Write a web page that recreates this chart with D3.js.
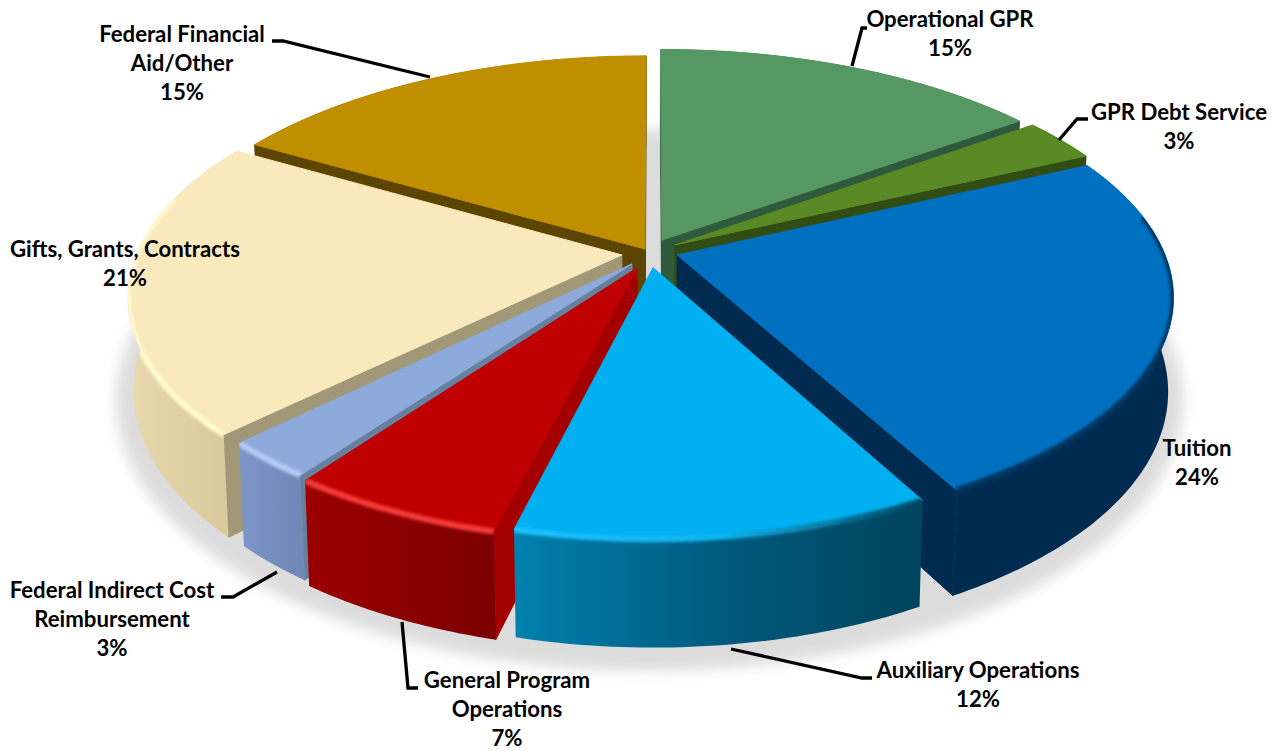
<!DOCTYPE html>
<html>
<head>
<meta charset="utf-8">
<title>Revenue by source</title>
<script src="https://cdn.jsdelivr.net/npm/d3@7"></script>
<style>
  html, body { margin: 0; padding: 0; background: #fff; }
  svg { display: block; }
  text { font-family: Lato, "Open Sans", sans-serif; font-weight: 700; fill: #000; text-anchor: middle; }
</style>
</head>
<body>
<svg id="chart" width="1272" height="751"></svg>
<script>
// Revenue shares, clockwise from twelve o'clock
const categories = ["Operational GPR", "GPR Debt Service", "Tuition", "Auxiliary Operations",
  "General Program Operations", "Federal Indirect Cost Reimbursement",
  "Gifts, Grants, Contracts", "Federal Financial Aid/Other"];
const shares = [15, 3, 24, 12, 7, 3, 21, 15];

const labelLines = [["Operational GPR"], ["GPR Debt Service"], ["Tuition"], ["Auxiliary Operations"],
  ["General Program", "Operations"], ["Federal Indirect Cost", "Reimbursement"],
  ["Gifts, Grants, Contracts"], ["Federal Financial", "Aid/Other"]];

// Label placement: centre x and baseline of the first line
const labelPos = [[950, 26.5], [1179, 119.5], [1197, 455.5], [978, 677.5], [507, 687.5], [112, 597.5], [125, 256.5], [182, 41.5]];

// Leader lines from label to slice
const leaders = [
  [[852, 66], [862, 28], [867, 28]],
  [[1059, 140], [1077, 119], [1088, 119]],
  null,
  [[731, 649], [862, 678], [872, 678]],
  [[402, 622], [408, 688], [418, 688]],
  [[277, 572], [233, 597], [221, 597]],
  null,
  [[430, 77], [283, 41], [272, 41]]
];

// Colours per slice: top face, outer wall stops, radial cut face, rim shading stops
const topColors = ["#559863", "#5a8a25", "#0070c0", "#00b0f0", "#c00000", "#8eaadb", "#f9e9bd", "#bf8f00"];
const wallColors = [
  ["#2f5a3c", "#2f5a3c"], ["#324d14", "#324d14"], ["#002b50", "#002b50"],
  ["#0081ae", "#005b7e", "#00445c"], ["#9c0000", "#8c0000", "#7c0000"],
  ["#7e96c8", "#6f87b5"], ["#e9daae", "#d6c698"], ["#5c4500", "#5c4500"]
];
const faceColors = ["#2f5a3c", "#324d14", "#002b50", "#004a66", "#a50000", "#67809f", "#a09876", "#5c4500"];
const rimColors = [
  ["#4a8556"], ["#4f7a20"], ["#00345f"], ["#1cc2ff", "#10b4ee", "#00465f"],
  ["#f53a3a"], ["#b5ccf6"], ["#fffad0"], ["#b58800"]
];

// Each slice is pulled away from the hub: plane offset and radius
const sliceOffset = [
  { x: 0.02, y: 0.03, r: 0.98 }, { x: 0.046, y: 0.0087, r: 0.98 },
  { x: 0.05, y: -0.0345, r: 0.97 }, { x: 0.002, y: -0.088, r: 0.945 },
  { x: -0.0295, y: -0.0895, r: 0.95 }, { x: -0.0395, y: -0.0725, r: 0.95 },
  { x: -0.06, y: -0.034, r: 0.965 }, { x: -0.014, y: -0.0087, r: 0.98 }
];
// Back-to-front paint order
const paintOrder = [7, 0, 1, 6, 2, 5, 4, 3];
// Part of the rim that catches shading, in view degrees
const rimSpan = [null, null, [80, 153], [151, 195], [190, 218], [215, 228], [224, 285], null];

// Camera: plane coordinates to screen, z = 0 on top of the disc, z = 1 under it
const cam = { cx: 652, cy: 247, a: 230.8, b: 500, k: 0.178, g: 0.01, h: 92.5 };
function project(X, Y, z) {
  const w = 1 + cam.k * Y + cam.g * z;
  return [cam.cx + cam.b * X / w, cam.cy + (-cam.a * Y + cam.h * z) / w];
}
// The oblique view compresses the left half; maps pie degrees to view degrees
const viewAngle = d3.scaleLinear()
  .domain([0, 151.2, 194.4, 219.6, 230.4, 306, 360])
  .range([0, 151.5, 194, 216, 225.5, 300, 360]);

const svg = d3.select("#chart");
const defs = svg.append("defs");
const blur = (id, sd) => defs.append("filter").attr("id", id)
  .attr("x", "-30%").attr("y", "-30%").attr("width", "160%").attr("height", "160%")
  .append("feGaussianBlur").attr("stdDeviation", sd);
blur("soft", 1.8);
blur("ground", 7);

const arcs = d3.pie().sort(null).value(d => d)(shares);
const toPath = d3.line();
const rad = d => d * Math.PI / 180;

function rimPoint(i, deg, z, scale = 1) {
  const o = sliceOffset[i];
  return project(o.x + o.r * scale * Math.sin(rad(deg)), o.y + o.r * scale * Math.cos(rad(deg)), z);
}
function rimPoints(i, from, to, z) {
  const n = Math.max(2, Math.ceil(to - from));
  return d3.range(n + 1).map(j => rimPoint(i, from + (to - from) * j / n, z));
}
function hub(i, z) {
  return project(sliceOffset[i].x, sliceOffset[i].y, z);
}
function addGradient(id, stops, x0, x1) {
  const g = defs.append("linearGradient").attr("id", id)
    .attr("gradientUnits", "userSpaceOnUse")
    .attr("x1", x0).attr("x2", x1).attr("y1", 0).attr("y2", 0);
  stops.forEach((c, k) => g.append("stop")
    .attr("offset", stops.length > 1 ? k / (stops.length - 1) : 0).attr("stop-color", c));
}

// Soft shadow on the ground under the disc
const groundRing = d3.range(0, 360, 2).map(d =>
  project(1.05 * Math.sin(rad(d)) - 0.005, 1.05 * Math.cos(rad(d)) - 0.045, 1));
svg.append("path").attr("d", toPath(groundRing) + "Z")
  .attr("fill", "#dcdcdc").attr("filter", "url(#ground)");

const slices = svg.append("g");
paintOrder.forEach(i => {
  const arc = arcs[i];
  const a0 = viewAngle(arc.startAngle * 180 / Math.PI);
  const a1 = viewAngle(arc.endAngle * 180 / Math.PI);
  const g = slices.append("g").attr("class", "slice").attr("data-name", categories[i]);

  // Radial cut faces, only those turned towards the camera
  [[a0, 1], [a1, -1]].forEach(([deg, side]) => {
    const quad = [hub(i, 0), rimPoint(i, deg, 0), rimPoint(i, deg, 1), hub(i, 1)];
    if (side * d3.polygonArea(quad) > 0) {
      g.append("path").attr("d", toPath(quad) + "Z")
        .attr("fill", faceColors[i]).attr("stroke", faceColors[i])
        .attr("stroke-width", 1).attr("stroke-linejoin", "round");
    }
  });

  // Outer wall
  const topArc = rimPoints(i, a0, a1, 0);
  const bottomArc = rimPoints(i, a0, a1, 1);
  const wall = topArc.concat(bottomArc.slice().reverse());
  const xs = wall.map(p => p[0]);
  addGradient("wall" + i, wallColors[i], d3.min(xs), d3.max(xs));
  g.append("path").attr("d", toPath(wall) + "Z").attr("fill", `url(#wall${i})`);

  // Top face
  const top = [hub(i, 0)].concat(topArc);
  g.append("path").attr("d", toPath(top) + "Z")
    .attr("fill", topColors[i]).attr("stroke", topColors[i])
    .attr("stroke-width", 1).attr("stroke-linejoin", "round");

  // Rim shading, kept inside the slice's own surfaces
  if (rimSpan[i]) {
    const clip = defs.append("clipPath").attr("id", "clip" + i);
    clip.append("path").attr("d", toPath(top) + "Z");
    clip.append("path").attr("d", toPath(wall) + "Z");
    const rim = rimPoints(i, Math.max(a0, rimSpan[i][0]), Math.min(a1, rimSpan[i][1]), 0);
    const rxs = rim.map(p => p[0]);
    addGradient("rim" + i, rimColors[i].length > 1 ? rimColors[i] : [rimColors[i][0], rimColors[i][0]],
      d3.min(rxs), d3.max(rxs));
    g.append("g").attr("clip-path", `url(#clip${i})`)
      .append("path").attr("d", toPath(rim))
      .attr("fill", "none").attr("stroke", `url(#rim${i})`)
      .attr("stroke-width", 6).attr("filter", "url(#soft)");
  }
});

// Leader lines
svg.append("g").selectAll("path")
  .data(leaders.filter(Boolean)).join("path")
  .attr("d", d => toPath(d))
  .attr("fill", "none").attr("stroke", "#000").attr("stroke-width", 3.3);

// Labels with percentages
const labelSize = 22.2, lineStep = 29.4;
const labels = svg.append("g");
categories.forEach((name, i) => {
  const lines = labelLines[i].concat(shares[i] + "%");
  const t = labels.append("text").attr("font-size", labelSize);
  lines.forEach((s, j) => t.append("tspan")
    .attr("x", labelPos[i][0]).attr("y", labelPos[i][1] + j * lineStep).text(s));
});
</script>
</body>
</html>
